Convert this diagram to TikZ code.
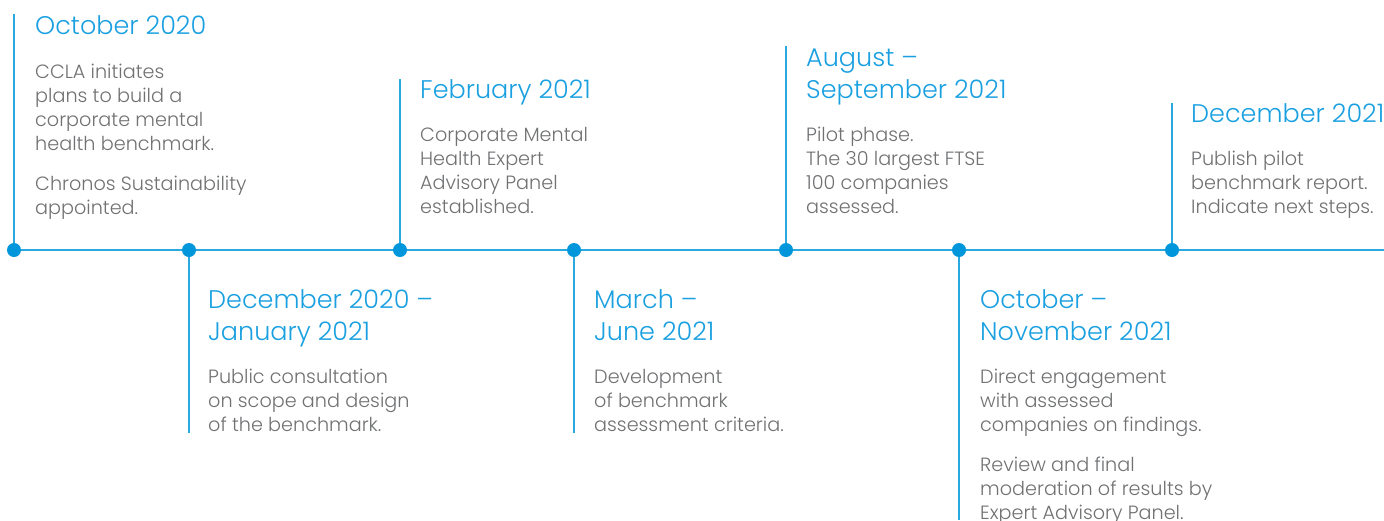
\documentclass[tikz,border=0pt]{standalone}
\usepackage{fontspec}
\setmainfont{Poppins Light}
\usetikzlibrary{backgrounds}
\definecolor{tlline}{HTML}{2AA8E0}
\definecolor{tldot}{HTML}{0096DC}
\definecolor{tlhead}{HTML}{1AA0E0}
\definecolor{tlbody}{HTML}{707173}
\begin{document}
\begin{tikzpicture}[x=1pt,y=-1pt,
  tl/.style={draw=tlline,line width=1.4pt},
  dot/.style={circle,fill=tldot,inner sep=0pt,minimum size=14pt},
  % multi-line nodes are placed by the baseline of their last line
  head/.style={anchor=base west,inner sep=0pt,align=left,text=tlhead,
    font=\fontsize{25.5}{32}\selectfont},
  body/.style={anchor=base west,inner sep=0pt,align=left,text=tlbody,
    font=\fontsize{19.2}{24}\selectfont}]
\useasboundingbox (0,0) rectangle (1384,520);

% milestone dots on the axis
\node[dot] (d1) at (14,250) {};
\node[dot] (d2) at (189,250) {};
\node[dot] (d3) at (400,250) {};
\node[dot] (d4) at (574,250) {};
\node[dot] (d5) at (786,250) {};
\node[dot] (d6) at (959,250) {};
\node[dot] (d7) at (1172,250) {};
\coordinate (axisend) at (1384,250);

% free ends of the stems
\coordinate (s1) at (14,14);
\coordinate (s2) at (189,433);
\coordinate (s3) at (400,79);
\coordinate (s4) at (574,433);
\coordinate (s5) at (786,46);
\coordinate (s6) at (959,520);
\coordinate (s7) at (1172,103);

\begin{scope}[on background layer]
\draw[tl] (d1.center) -- (axisend);
\foreach \i in {1,...,7} \draw[tl] (d\i.center) -- (s\i);
\end{scope}

% texts above the axis
\node[head] (h1) at (35,34) {October 2020};
\node[body] (b1) at (35,214) {CCLA initiates\\plans to build a\\corporate mental\\health benchmark.\\[16pt]Chronos Sustainability\\appointed.};

\node[head] (h3) at (420,98) {February 2021};
\node[body] (b3) at (420,213) {Corporate Mental\\Health Expert\\Advisory Panel\\established.};

\node[head] (h5) at (806,98) {August –\\September 2021};
\node[body] (b5) at (806,213) {Pilot phase.\\The 30 largest FTSE\\100 companies\\assessed.};

\node[head] (h7) at (1191,122) {December 2021};
\node[body] (b7) at (1191,213) {Publish pilot\\benchmark report.\\Indicate next steps.};

% texts below the axis
\node[head] (h2) at (208,340) {December 2020 –\\January 2021};
\node[body] (b2) at (208,431) {Public consultation\\on scope and design\\of the benchmark.};

\node[head] (h4) at (594,340) {March –\\June 2021};
\node[body] (b4) at (594,431) {Development\\of benchmark\\assessment criteria.};

\node[head] (h6) at (980,340) {October –\\November 2021};
\node[body] (b6) at (980,519) {Direct engagement\\with assessed\\companies on findings.\\[16pt]Review and final\\moderation of results by\\Expert Advisory Panel.};
\end{tikzpicture}
\end{document}
